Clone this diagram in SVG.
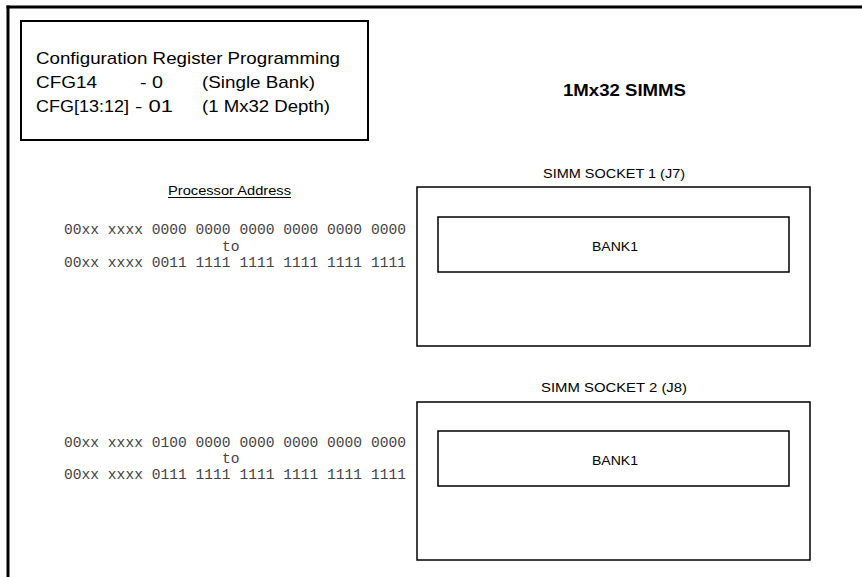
<svg xmlns="http://www.w3.org/2000/svg" width="862" height="577" viewBox="0 0 862 577">
<style>
.s{font-family:"Liberation Sans",Arial,sans-serif;font-size:17px;fill:#000}
.sm{font-family:"Liberation Sans",Arial,sans-serif;font-size:13.5px;fill:#000}
.b{font-family:"Liberation Sans",Arial,sans-serif;font-size:16.5px;font-weight:bold;fill:#000}
.m{font-family:"Liberation Mono","Courier New",monospace;font-size:14.6px;fill:#444}
.box{fill:none;stroke:#000;stroke-width:1.5}
</style>
<rect width="862" height="577" fill="#fff"/>
<g id="frame">
<line x1="6.5" y1="7" x2="862" y2="7" stroke="#000" stroke-width="3"/>
<line x1="8" y1="5.5" x2="8" y2="577" stroke="#000" stroke-width="3"/>
</g>
<g id="config">
<rect x="21" y="21" width="347" height="119" fill="none" stroke="#000" stroke-width="2"/>
<text class="s" x="36" y="64" textLength="304" lengthAdjust="spacingAndGlyphs">Configuration Register Programming</text>
<text class="s" x="36" y="88" textLength="61" lengthAdjust="spacingAndGlyphs">CFG14</text>
<text class="s" x="140" y="88" textLength="23" lengthAdjust="spacingAndGlyphs">- 0</text>
<text class="s" x="202" y="88" textLength="113" lengthAdjust="spacingAndGlyphs">(Single Bank)</text>
<text class="s" x="36" y="112" textLength="93" lengthAdjust="spacingAndGlyphs">CFG[13:12]</text>
<text class="s" x="135" y="112" textLength="38" lengthAdjust="spacingAndGlyphs">- 01</text>
<text class="s" x="202" y="112" textLength="128" lengthAdjust="spacingAndGlyphs">(1 Mx32 Depth)</text>
</g>
<g id="title">
<text class="b" x="563" y="96" textLength="123" lengthAdjust="spacingAndGlyphs">1Mx32 SIMMS</text>
</g>
<g id="address-header">
<text class="sm" x="168" y="195" textLength="123" lengthAdjust="spacingAndGlyphs">Processor Address</text>
<line x1="168" y1="197.5" x2="291" y2="197.5" stroke="#000" stroke-width="1"/>
</g>
<g id="address1">
<text class="m" x="64" y="234" textLength="342" lengthAdjust="spacingAndGlyphs">00xx xxxx 0000 0000 0000 0000 0000 0000</text>
<text class="m" x="222" y="251">to</text>
<text class="m" x="64" y="267" textLength="342" lengthAdjust="spacingAndGlyphs">00xx xxxx 0011 1111 1111 1111 1111 1111</text>
</g>
<g id="address2">
<text class="m" x="64" y="447" textLength="342" lengthAdjust="spacingAndGlyphs">00xx xxxx 0100 0000 0000 0000 0000 0000</text>
<text class="m" x="222" y="463">to</text>
<text class="m" x="64" y="479" textLength="342" lengthAdjust="spacingAndGlyphs">00xx xxxx 0111 1111 1111 1111 1111 1111</text>
</g>
<g id="socket1">
<text class="sm" x="543" y="178" textLength="142" lengthAdjust="spacingAndGlyphs">SIMM SOCKET 1 (J7)</text>
<rect class="box" x="417" y="187" width="393" height="159"/>
</g>
<g id="bank1-socket1">
<rect class="box" x="438" y="217" width="351" height="55"/>
<text class="sm" x="592" y="251" textLength="46" lengthAdjust="spacingAndGlyphs">BANK1</text>
</g>
<g id="socket2">
<text class="sm" x="541" y="392" textLength="146" lengthAdjust="spacingAndGlyphs">SIMM SOCKET 2  (J8)</text>
<rect class="box" x="417" y="402" width="393" height="158"/>
</g>
<g id="bank1-socket2">
<rect class="box" x="438" y="431" width="351" height="55"/>
<text class="sm" x="592" y="465" textLength="46" lengthAdjust="spacingAndGlyphs">BANK1</text>
</g>
<g id="connectors"></g>
</svg>
